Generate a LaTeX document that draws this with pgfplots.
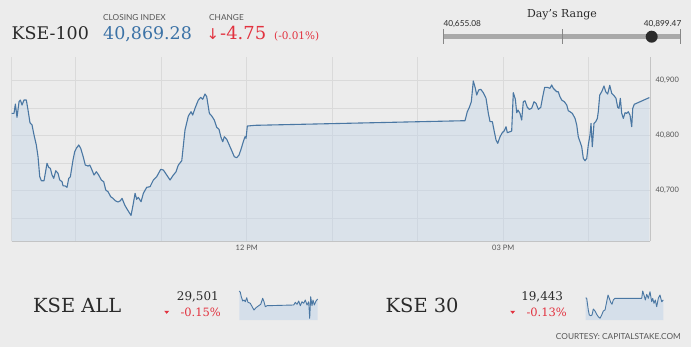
\documentclass[border=0pt]{standalone}
\usepackage{pgfplots}
\pgfplotsset{compat=1.18}
\usepackage{pgfplotstable}
\usepackage{fontspec}
\setmainfont{DejaVu Serif}
\newfontfamily\lato{Lato}
\newfontfamily\djsans{DejaVu Sans}
\definecolor{bgc}{HTML}{ECECEC}
\definecolor{gridc}{HTML}{DADADA}
\definecolor{linec}{HTML}{4A77A3}
\definecolor{fillc}{HTML}{C0D3E9}
\definecolor{bluetxt}{HTML}{3B72A6}
\definecolor{redc}{HTML}{E2323F}
\definecolor{darktxt}{HTML}{2A2A2A}
\definecolor{labelc}{HTML}{555555}
\definecolor{barc}{HTML}{A9A9A9}
\definecolor{dotc}{HTML}{2B2B2B}

\pgfplotstableread{
h v
9.251 40840.7
9.278 40840.7
9.294 40857.6
9.313 40833.5
9.337 40861.8
9.352 40864.9
9.372 40855.8
9.395 40864.9
9.422 40864.9
9.442 40846.7
9.465 40823.6
9.489 40819.5
9.512 40801.3
9.539 40783.1
9.559 40761.8
9.579 40725.5
9.598 40718.2
9.629 40718.2
9.644 40731.6
9.664 40749.8
9.684 40742.5
9.703 40740.7
9.723 40728.5
9.743 40722.5
9.766 40736.4
9.793 40731.6
9.813 40719.5
9.840 40716.4
9.851 40709.1
9.878 40708.6
9.898 40706.2
9.918 40722.5
9.937 40725.5
9.968 40755.8
9.988 40770.9
10.007 40777.1
10.035 40783.1
10.058 40777.1
10.085 40763.1
10.112 40746.7
10.144 40744.9
10.164 40746.7
10.182 40740.7
10.214 40728.5
10.241 40734.5
10.269 40728.5
10.299 40719.5
10.327 40716.4
10.351 40701.3
10.378 40698.2
10.409 40689.1
10.436 40686.2
10.463 40681.8
10.495 40679.5
10.522 40681.8
10.542 40686.2
10.573 40674.0
10.600 40666.7
10.647 40655.1
10.674 40677.1
10.694 40695.3
10.713 40684.4
10.732 40688.0
10.764 40680.0
10.791 40695.3
10.830 40706.2
10.869 40707.3
10.908 40719.5
10.947 40725.5
10.994 40738.9
11.025 40737.6
11.064 40728.5
11.103 40719.5
11.142 40728.5
11.173 40734.5
11.200 40746.7
11.240 40754.5
11.278 40810.4
11.317 40835.8
11.349 40843.6
11.368 40837.6
11.395 40849.8
11.434 40864.9
11.462 40869.8
11.485 40866.2
11.512 40875.8
11.532 40870.9
11.563 40840.7
11.591 40835.8
11.621 40828.5
11.649 40815.3
11.676 40811.6
11.699 40797.1
11.719 40789.1
11.738 40798.2
11.766 40793.5
11.796 40783.1
11.825 40772.7
11.855 40761.8
11.883 40760.0
11.910 40764.9
11.933 40775.3
11.960 40789.1
11.980 40798.2
11.992 40795.3
12.007 40817.6
12.097 40818.9
14.553 40827.3
14.580 40843.6
14.604 40851.6
14.627 40861.8
14.650 40899.5
14.674 40886.2
14.690 40874.0
14.713 40883.1
14.737 40884.4
14.767 40878.2
14.799 40868.0
14.826 40840.7
14.846 40825.5
14.873 40825.5
14.896 40807.3
14.916 40792.2
14.936 40786.2
14.963 40798.2
14.989 40805.5
15.013 40809.1
15.033 40816.4
15.048 40805.5
15.080 40807.3
15.099 40808.5
15.118 40878.2
15.142 40866.2
15.158 40841.8
15.173 40846.7
15.196 40840.7
15.216 40828.5
15.235 40861.8
15.255 40863.6
15.282 40851.6
15.305 40848.0
15.333 40849.8
15.360 40861.8
15.384 40858.9
15.411 40848.0
15.439 40851.6
15.462 40870.9
15.485 40888.0
15.516 40888.0
15.547 40886.2
15.567 40892.2
15.586 40886.2
15.626 40880.0
15.644 40880.0
15.664 40870.9
15.684 40864.9
15.715 40861.8
15.743 40855.8
15.761 40845.5
15.781 40843.6
15.808 40840.7
15.840 40831.6
15.860 40819.5
15.878 40798.2
15.898 40789.1
15.918 40780.0
15.937 40758.9
15.957 40754.5
15.977 40758.9
15.995 40783.1
16.015 40801.3
16.027 40822.5
16.042 40780.0
16.062 40822.5
16.082 40825.5
16.101 40831.6
16.112 40843.6
16.129 40874.0
16.152 40880.0
16.179 40890.4
16.199 40880.0
16.222 40875.8
16.246 40891.6
16.269 40877.1
16.299 40872.2
16.319 40868.0
16.339 40851.6
16.354 40849.8
16.370 40868.0
16.386 40840.7
16.405 40831.6
16.425 40841.8
16.444 40840.7
16.463 40843.6
16.483 40837.6
16.503 40816.4
16.515 40849.8
16.533 40857.1
16.709 40869.28
}\maindata

\pgfplotstableread{
x y
0 29
1 27.7
2 23.3
3.4 19
4.7 20
6 18.3
7.4 22.3
8.7 17.7
11 16.7
13.4 12.3
14.7 10
16.7 12.3
19.4 14.3
21.4 15.7
23.4 21.7
24.7 18.3
26 13.3
27.7 14.3
54.4 15
56 17.7
57.7 15.7
59.4 19
61 14.3
62.7 18.3
64.4 16.7
66 20
67.7 15
69.4 18.3
70.4 1.7
71.4 23.3
72.7 14.3
73.7 20
75 15
76.7 19
78.4 21
}\allsdata

\pgfplotstableread{
x y
0 22.3
1 21.7
2.6 10
3.6 5
5 4.3
6.3 5
7.6 11
9.3 9
11 5.7
12.6 3.3
14.3 1.7
16 5
17.6 9
19.3 10
21 18.3
22.3 25
23.6 21.7
25 17.7
26.3 15.7
27.6 20
29.3 21.7
56 21.7
57 29
58.3 25
59.6 20
61 25.7
62.6 21.7
64.3 28.3
66 18.3
67 21.7
68.3 16.7
69.6 20
71 13.3
72.6 21.7
74.3 25
76 18.3
77.6 20
}\thirtydata

\begin{document}
\begin{tikzpicture}
\begin{scope}[x=1bp,y=-1bp]
\useasboundingbox (0,0) rectangle (696,351);
\fill[bgc] (0,0) rectangle (696,351);

% header
\node[anchor=base west, inner sep=0, font=\fontsize{17.5}{20}\selectfont, text=darktxt] at (11.5,39) {KSE-100};
\node[anchor=base west, inner sep=0, font=\lato\fontsize{8.3}{9}\selectfont, text=labelc] at (103,20.7) {CLOSING INDEX};
\node[anchor=base west, inner sep=0, font=\fontsize{17.5}{20}\selectfont, text=bluetxt] at (103,39) {40,869.28};
\node[anchor=base west, inner sep=0, font=\lato\fontsize{8.3}{9}\selectfont, text=labelc] at (209,20.7) {CHANGE};
\node[anchor=base, inner sep=0, font=\djsans\fontsize{15}{18}\selectfont, text=redc] at (213,39) {↓};
\node[anchor=base west, inner sep=0, font=\fontsize{18}{20}\selectfont, text=redc] at (220,39) {-4.75};
\node[anchor=base west, inner sep=0, font=\fontsize{10.5}{12}\selectfont, text=redc] at (274,39) {(-0.01\%)};

% day's range
\node[anchor=base, inner sep=0, font=\fontsize{11}{13}\selectfont, text=darktxt] at (562,17.3) {Day's Range};
\node[anchor=base west, inner sep=0, font=\lato\fontsize{8.3}{9}\selectfont, text=darktxt] at (443.3,26.7) {40,655.08};
\node[anchor=base east, inner sep=0, font=\lato\fontsize{8.3}{9}\selectfont, text=darktxt] at (681.5,26.7) {40,899.47};
\draw[barc, line width=5bp] (443.3,36.8) -- (681,36.8);
\draw[barc!80!black, line width=0.8bp] (443.7,29.3) -- (443.7,44.3);
\draw[barc!80!black, line width=0.8bp] (562.3,29.3) -- (562.3,44.3);
\draw[barc!80!black, line width=0.8bp] (680.6,29.3) -- (680.6,44.3);
\fill[dotc] (651.7,36.7) circle (6bp);

% bottom section texts
\node[anchor=base west, inner sep=0, font=\fontsize{19.5}{22}\selectfont, text=darktxt] at (33,312.3) {KSE ALL};
\node[anchor=base east, inner sep=0, font=\fontsize{12}{14}\selectfont, text=darktxt] at (219,300.7) {29,501};
\node[anchor=base east, inner sep=0, font=\fontsize{11.5}{14}\selectfont, text=redc] at (221,316) {-0.15\%};
\fill[redc] (164.2,310.8) -- (169.2,310.8) -- (166.7,313.8) -- cycle;

\node[anchor=base west, inner sep=0, font=\fontsize{19.5}{22}\selectfont, text=darktxt] at (385.5,312.3) {KSE 30};
\node[anchor=base east, inner sep=0, font=\fontsize{12}{14}\selectfont, text=darktxt] at (563.3,300.7) {19,443};
\node[anchor=base east, inner sep=0, font=\fontsize{11.5}{14}\selectfont, text=redc] at (567,316) {-0.13\%};
\fill[redc] (510.2,310.8) -- (515.2,310.8) -- (512.7,313.8) -- cycle;

\node[anchor=base east, inner sep=0, font=\lato\fontsize{8.3}{9}\selectfont, text=labelc] at (681,339) {COURTESY: CAPITALSTAKE.COM};
\end{scope}

% main chart
\begin{axis}[
  at={(11.7bp,-57bp)}, anchor=north west,
  scale only axis, width=638.3bp, height=184bp,
  xmin=9.251, xmax=16.717, ymin=40608.6, ymax=40943.1,
  scaled x ticks=false, scaled y ticks=false,
  axis x line*=bottom, axis y line*=right,
  axis line style={draw=gridc!90!black, line width=0.8bp},
  xtick={10,11,12,13,14,15,16}, xticklabels={,,12 PM,,,03 PM,},
  extra x ticks={9.251}, extra x tick labels={},
  ytick={40650,40700,40750,40800,40850,40900},
  yticklabels={,{40,700},,{40,800},,{40,900}},
  grid=major, major grid style={draw=gridc, line width=0.8bp},
  extra x tick style={grid=major},
  major tick length=0pt,
  tick label style={font=\lato\fontsize{7.5}{9}\selectfont, text=labelc},
  yticklabel style={xshift=2bp},
  xticklabel style={yshift=-1bp},
  clip=true,
]
\addplot[draw=none, fill=fillc, fill opacity=0.4] table[x=h,y=v]{\maindata} \closedcycle;
\addplot[linec, line width=1.1bp, line join=round] table[x=h,y=v]{\maindata};
\end{axis}

\begin{axis}[
  at={(239.3bp,-290bp)}, anchor=north west,
  scale only axis, width=78.4bp, height=30bp,
  xmin=0, xmax=78.4, ymin=0, ymax=30, hide axis, clip=false,
]
\addplot[draw=none, fill=fillc, fill opacity=0.5] table[x=x,y=y]{\allsdata} \closedcycle;
\addplot[linec, line width=0.9bp, line join=round] table[x=x,y=y]{\allsdata};
\end{axis}

\begin{axis}[
  at={(585.7bp,-290bp)}, anchor=north west,
  scale only axis, width=77.6bp, height=30bp,
  xmin=0, xmax=77.6, ymin=0, ymax=30, hide axis, clip=false,
]
\addplot[draw=none, fill=fillc, fill opacity=0.5] table[x=x,y=y]{\thirtydata} \closedcycle;
\addplot[linec, line width=0.9bp, line join=round] table[x=x,y=y]{\thirtydata};
\end{axis}

\fill[white] (691bp,0bp) rectangle (696bp,-351bp);
\fill[white] (0bp,-347bp) rectangle (696bp,-351bp);
\end{tikzpicture}
\end{document}
